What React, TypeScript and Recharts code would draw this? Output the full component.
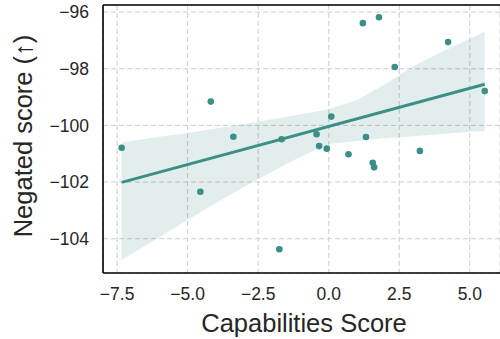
import React from "react";
import {
  ComposedChart,
  Scatter,
  Line,
  Area,
  XAxis,
  YAxis,
  CartesianGrid,
  ReferenceLine,
} from "recharts";

// scatter points (capabilities score, negated score)
const pointX = [
  -4.18, -7.34, -3.38, -4.55, 1.21, 1.78, 4.23, 2.34, 5.53, 0.09,
  -1.67, -0.43, -0.34, -0.07, 1.32, 0.7, 3.23, 1.56, 1.61, -1.75,
];
const pointY = [
  -99.16, -100.79, -100.4, -102.34, -96.39, -96.18, -97.06, -97.94, -98.79, -99.69,
  -100.49, -100.31, -100.73, -100.82, -100.41, -101.02, -100.9, -101.32, -101.48, -104.37,
];

// regression fit and its confidence band
const fitX = [-7.34, 5.53];
const fitY = [-102.01, -98.55];
const bandX = [-7.34, -6, -5, -4, -3, -2, -1, 0, 1, 2, 3, 4, 5, 5.53];
const bandLow = [
  -104.75, -103.95, -103.34, -102.74, -102.17, -101.63, -101.11,
  -100.66, -100.55, -100.45, -100.38, -100.3, -100.22, -100.2,
];
const bandHigh = [
  -100.6, -100.4, -100.27, -100.11, -99.95, -99.78, -99.61,
  -99.43, -99.1, -98.55, -97.9, -97.41, -96.94, -96.69,
];

const xTicks = [-7.5, -5, -2.5, 0, 2.5, 5];
const yTicks = [-104, -102, -100, -98, -96];

const TEAL = "#3b8f87";
const TEXT = "#262626";
const FONT = "'Liberation Sans', Arial, sans-serif";

const points = pointX.map((x, i) => ({ x, y: pointY[i] }));
const fit = fitX.map((x, i) => ({ x, fit: fitY[i] }));
const band = bandX.map((x, i) => ({ x, range: [bandLow[i], bandHigh[i]] }));

const minus = (s: string) => s.replace("-", "\u2212");

const Dot = (props: any) => <circle cx={props.cx} cy={props.cy} r={3.3} fill={TEAL} />;

const YLabel = () => (
  <text
    x={23}
    y={136}
    transform="rotate(-90 23 136)"
    textAnchor="middle"
    dominantBaseline="central"
    fontSize={25.5}
    fontFamily={FONT}
    fill={TEXT}
  >
    Negated score (↑)
  </text>
);

const XLabel = () => (
  <text
    x={304}
    y={323}
    textAnchor="middle"
    dominantBaseline="central"
    fontSize={25.5}
    fontFamily={FONT}
    fill={TEXT}
  >
    Capabilities Score
  </text>
);

const App = () => {
  return (
    <div style={{ position: "absolute", left: 0, top: 0, width: 500, height: 339, background: "#fff" }}>
      <ComposedChart width={500} height={339} margin={{ top: 5, right: 0, bottom: 0, left: 0 }}>
        <CartesianGrid stroke="#cccccc" strokeDasharray="5 3" strokeWidth={1} />
        <XAxis
          type="number"
          dataKey="x"
          domain={[-8.0, 6.07]}
          ticks={xTicks}
          allowDataOverflow
          height={66}
          tickLine={false}
          tickSize={6}
          tickMargin={9}
          axisLine={{ stroke: "#000", strokeWidth: 1.6 }}
          tick={{ fontSize: 17.5, fill: TEXT, fontFamily: FONT }}
          tickFormatter={(v: number) => minus(v.toFixed(1))}
          label={<XLabel />}
        />
        <YAxis
          type="number"
          domain={[-105.21, -95.75]}
          ticks={yTicks}
          allowDataOverflow
          width={103}
          tickLine={false}
          tickSize={6}
          tickMargin={8}
          axisLine={{ stroke: "#000", strokeWidth: 1.6 }}
          tick={{ fontSize: 17.5, fill: TEXT, fontFamily: FONT }}
          tickFormatter={(v: number) => minus(String(v))}
          label={<YLabel />}
        />
        <ReferenceLine y={-95.75} stroke="#000" strokeWidth={1.6} ifOverflow="extendDomain" />
        <Area
          data={band}
          dataKey="range"
          type="linear"
          stroke="none"
          fill={TEAL}
          fillOpacity={0.15}
          isAnimationActive={false}
        />
        <Line
          data={fit}
          dataKey="fit"
          type="linear"
          stroke={TEAL}
          strokeWidth={3}
          dot={false}
          isAnimationActive={false}
        />
        <Scatter data={points} dataKey="y" shape={<Dot />} isAnimationActive={false} />
      </ComposedChart>
    </div>
  );
};

export default App;
